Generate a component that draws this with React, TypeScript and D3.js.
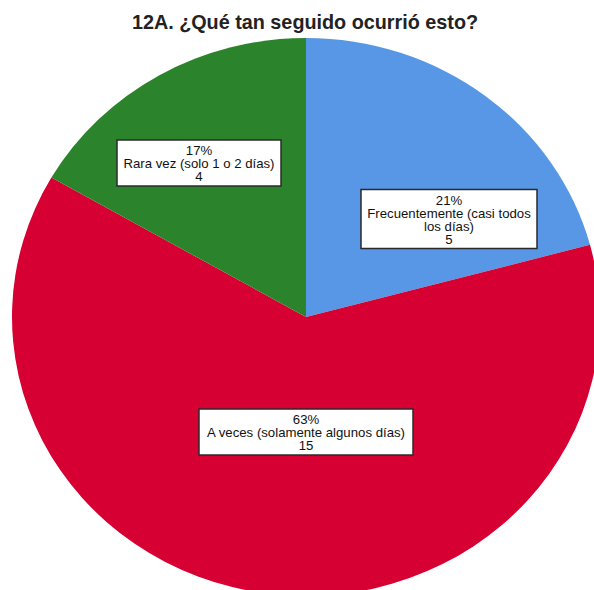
import * as d3 from "d3";
import { useMemo } from "react";

const WIDTH = 594;
const HEIGHT = 590;
const CX = 306;
const CY = 317;
const RX = 294;
const RY = 279;
const LINE_H = 13;
const FONT = "'Liberation Sans', Arial, sans-serif";

const TITLE = "12A. ¿Qué tan seguido ocurrió esto?";
const categories = [
  ["Frecuentemente (casi todos", "los días)"],
  ["A veces (solamente algunos días)"],
  ["Rara vez (solo 1 o 2 días)"],
];
const counts = [5, 15, 4];
const colors = ["#5797E5", "#D60032", "#2B842C"];

// label box centres and widths, as SPSS placed them
const labelCentres = [
  [449, 219],
  [306, 432],
  [199, 163],
];
const labelWidths = [176, 214, 164];

export default function App() {
  const total = d3.sum(counts);
  const slices = useMemo(() => d3.pie<number>().sort(null)(counts), []);
  const arc = d3.arc<d3.PieArcDatum<number>>().innerRadius(0).outerRadius(RX);

  return (
    <svg
      width={WIDTH}
      height={HEIGHT}
      viewBox={`0 0 ${WIDTH} ${HEIGHT}`}
      style={{ position: "absolute", left: 0, top: 0, background: "#fff" }}
    >
      <rect width={WIDTH} height={HEIGHT} fill="#fff" />
      <text
        x={CX - 1}
        y={29}
        textAnchor="middle"
        fontFamily={FONT}
        fontWeight="bold"
        fontSize={19.8}
        fill="#222"
      >
        {TITLE}
      </text>
      <g transform={`translate(${CX},${CY}) scale(1,${RY / RX})`}>
        {slices.map((s, i) => (
          <path key={i} d={arc(s) || ""} fill={colors[i]} />
        ))}
      </g>
      <g className="labels">
        {slices.map((s, i) => {
          const lines = [
            `${Math.round((counts[i] / total) * 100)}%`,
            ...categories[i],
            String(counts[i]),
          ];
          const h = lines.length * LINE_H + 7;
          const w = labelWidths[i];
          const [lx, ly] = labelCentres[i];
          const top = ly - h / 2;
          return (
            <g key={i}>
              <rect
                x={lx - w / 2}
                y={top}
                width={w}
                height={h}
                fill="#fff"
                stroke="#2a2a2a"
                strokeWidth={1.5}
              />
              {lines.map((t, j) => (
                <text
                  key={j}
                  x={lx}
                  y={top + 2 + LINE_H * (j + 1)}
                  textAnchor="middle"
                  fontFamily={FONT}
                  fontSize={13.2}
                  fill="#111"
                >
                  {t}
                </text>
              ))}
            </g>
          );
        })}
      </g>
    </svg>
  );
}
